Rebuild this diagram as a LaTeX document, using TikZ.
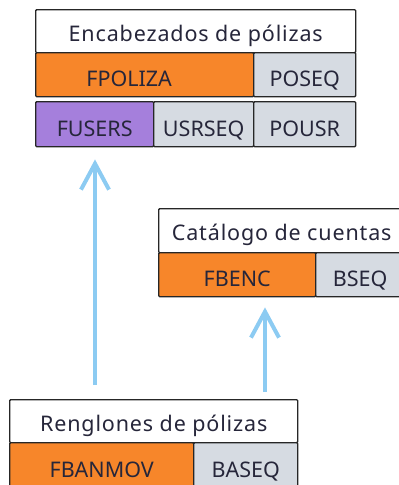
\documentclass[tikz,border=0pt]{standalone}
\usepackage{fontspec}
\setmainfont{Noto Sans}
\usetikzlibrary{arrows.meta}
\definecolor{corange}{HTML}{F7862A}
\definecolor{cgray}{HTML}{D6DBE2}
\definecolor{cpurple}{HTML}{A57FDC}
\definecolor{cborder}{HTML}{262626}
\definecolor{carrow}{HTML}{8CCBF2}
\definecolor{ctext}{HTML}{26263A}
\begin{document}
\begin{tikzpicture}[x=1pt,y=-1pt,
  cell/.style={draw=cborder,line width=1.4pt,rounded corners=1pt,inner sep=0pt,
    text=ctext,font=\fontsize{21.5}{24}\selectfont,text depth=0pt,anchor=north west},
  ttl/.style={cell,fill=white,text height=20pt,font=\fontsize{21.5}{24}\selectfont\addfontfeature{LetterSpace=4}},
  dat/.style={cell,text height=24pt},
  arr/.style={carrow,line width=4pt,-{Straight Barb[length=26pt,width=28pt]}}]
\useasboundingbox (0,0) rectangle (399,485);
\clip (0,0) rectangle (399,485);
% Encabezados de polizas
\node[ttl,minimum width=320pt,minimum height=43pt] (enc) at (35,9) {Encabezados de pólizas};
\node[dat,fill=corange,minimum width=218pt,minimum height=44pt] (fpoliza) at (35,52) {FPOLIZA\hspace*{31pt}};
\node[dat,fill=cgray,minimum width=102pt,minimum height=44pt] (poseq) at (253,52) {POSEQ};
\node[dat,fill=cpurple,minimum width=118pt,minimum height=45pt] (fusers) at (35,101) {FUSERS};
\node[dat,fill=cgray,minimum width=100pt,minimum height=45pt] (usrseq) at (153,101) {USRSEQ};
\node[dat,fill=cgray,minimum width=102pt,minimum height=45pt] (pousr) at (253,101) {POUSR};
% Catalogo de cuentas
\node[ttl,minimum width=246pt,minimum height=44pt] (cat) at (158,208) {Catálogo de cuentas};
\node[dat,fill=corange,minimum width=157pt,minimum height=44pt] (fbenc) at (158,252) {FBENC};
\node[dat,fill=cgray,minimum width=89pt,minimum height=44pt] (bseq) at (315,252) {BSEQ};
% Renglones de polizas
\node[ttl,minimum width=288pt,minimum height=43pt] (ren) at (9,399) {Renglones de pólizas};
\node[dat,fill=corange,minimum width=184pt,minimum height=45pt] (fbanmov) at (9,442) {FBANMOV};
\node[dat,fill=cgray,minimum width=104pt,minimum height=45pt] (baseq) at (193,442) {BASEQ};
% arrows
\coordinate (a1) at (95,0);
\coordinate (a2) at (265,0);
\draw[arr,shorten <=14pt,shorten >=12pt] (ren.north -| a1) -- (fusers.south -| a1);
\draw[arr,shorten <=7pt,shorten >=10pt] (ren.north -| a2) -- (fbenc.south -| a2);
\end{tikzpicture}
\end{document}
